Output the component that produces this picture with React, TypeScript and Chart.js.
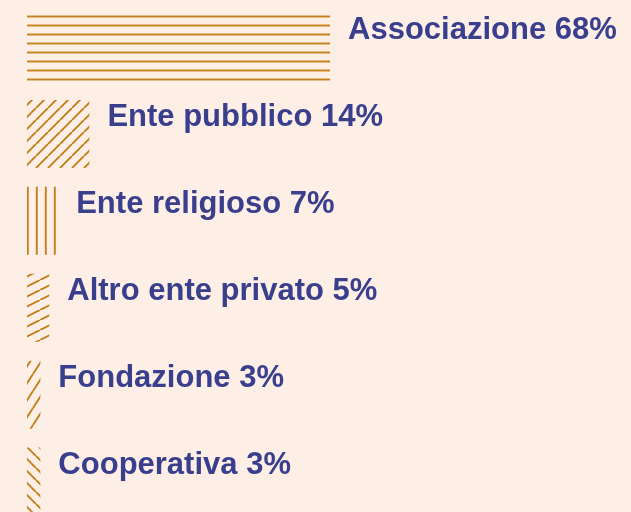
import React, { useEffect, useRef } from "react";
import { Chart, registerables } from "chart.js";

Chart.register(...registerables);

const categories = [
  "Associazione",
  "Ente pubblico",
  "Ente religioso",
  "Altro ente privato",
  "Fondazione",
  "Cooperativa",
];
const values = [68, 14, 7, 5, 3, 3];
const valueLabels = ["68%", "14%", "7%", "5%", "3%", "3%"];
const patternKinds = ["horiz", "diag45", "vert", "shallow", "steep", "back"];

const BG = "#fdeee6";
const BAR = "#c47f1a";
const TEXT = "#393f8d";

function makePattern(kind: string): CanvasPattern | string {
  const tile = document.createElement("canvas");
  let w = 9;
  let h = 9;
  if (kind === "diag45") { w = 12; h = 12; }
  if (kind === "shallow") { w = 20; h = 10; }
  if (kind === "steep") { w = 11; h = 17; }
  if (kind === "back") { w = 12; h = 12; }
  tile.width = w;
  tile.height = h;
  const c = tile.getContext("2d");
  if (!c) return BAR;
  c.strokeStyle = BAR;
  c.lineWidth = 1.9;
  c.lineCap = "butt";
  c.beginPath();
  if (kind === "horiz") {
    c.moveTo(0, 7.5);
    c.lineTo(w, 7.5);
  } else if (kind === "vert") {
    c.moveTo(0.8, 0);
    c.lineTo(0.8, h);
    c.moveTo(9.8, 0);
    c.lineTo(9.8, h);
  } else if (kind === "back") {
    for (const x0 of [-w, 0, w]) {
      c.moveTo(x0, 0);
      c.lineTo(x0 + w, h);
    }
  } else {
    for (const x0 of [-w, 0, w]) {
      c.moveTo(x0, h);
      c.lineTo(x0 + w, 0);
    }
  }
  c.stroke();
  const p = c.createPattern(tile, "repeat");
  return p || BAR;
}

const labelPlugin = {
  id: "barLabels",
  afterDatasetsDraw(chart: any) {
    const ctx = chart.ctx;
    const meta = chart.getDatasetMeta(0);
    ctx.save();
    ctx.fillStyle = TEXT;
    ctx.font = "bold 31px 'Liberation Sans', Arial, sans-serif";
    ctx.textAlign = "left";
    ctx.textBaseline = "alphabetic";
    meta.data.forEach((el: any, i: number) => {
      const { x, y, height } = el.getProps(["x", "y", "height"], true);
      const top = y - height / 2;
      ctx.fillText(categories[i] + " " + valueLabels[i], x + 18, top + 26);
    });
    ctx.restore();
  },
};

export default function App() {
  const ref = useRef<HTMLCanvasElement>(null);
  useEffect(() => {
    if (!ref.current) return;
    const chart = new Chart(ref.current, {
      type: "bar",
      data: {
        labels: categories,
        datasets: [
          {
            data: values,
            backgroundColor: patternKinds.map((k) => makePattern(k)) as any,
            borderWidth: 0,
            barPercentage: 0.783,
            categoryPercentage: 1,
          },
        ],
      },
      options: {
        indexAxis: "y",
        responsive: false,
        animation: false,
        events: [],
        layout: { padding: { left: 27, right: 158.4, top: 3.6, bottom: 0 } },
        scales: {
          x: { display: false, min: 0, max: 100 },
          y: { display: false },
        },
        plugins: {
          legend: { display: false },
          tooltip: { enabled: false },
        },
      },
      plugins: [labelPlugin],
    });
    return () => chart.destroy();
  }, []);
  return (
    <div
      style={{
        position: "fixed",
        left: 0,
        top: 0,
        width: 631,
        height: 512,
        overflow: "hidden",
        background: BG,
      }}
    >
      <canvas ref={ref} width={631} height={525} style={{ display: "block" }} />
    </div>
  );
}
